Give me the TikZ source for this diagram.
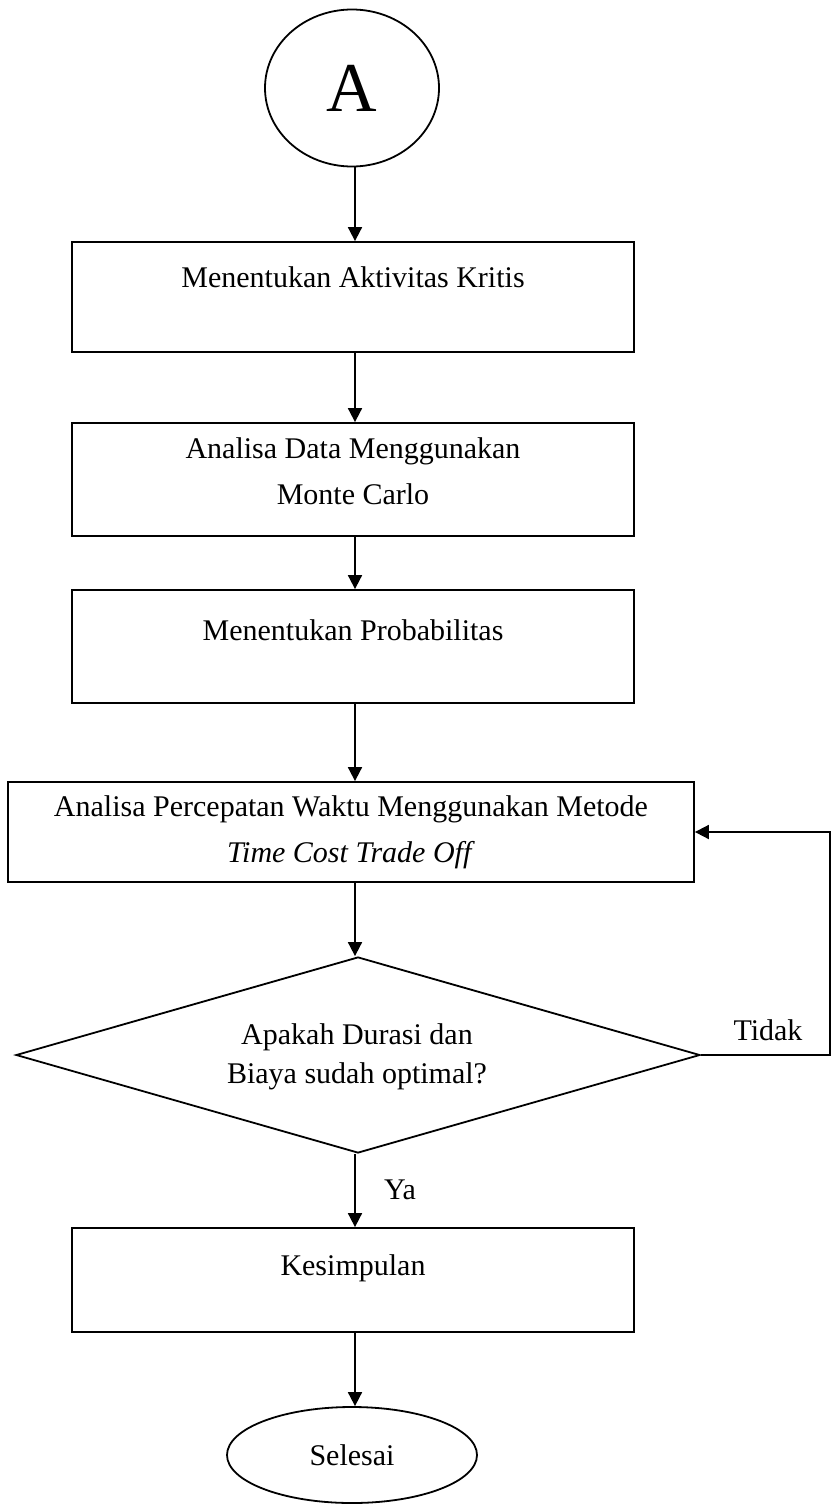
\documentclass[tikz,border=0pt]{standalone}
\usepackage{fontspec}
\setmainfont{Liberation Serif}
\usetikzlibrary{shapes.geometric,arrows.meta,calc}
\begin{document}
\begin{tikzpicture}[x=1pt,y=-1pt,
  line width=1.8pt,
  box/.style={draw, rectangle, inner sep=0pt},
  lbl/.style={font=\fontsize{30}{46}\selectfont, align=center, inner sep=0pt},
  flow/.style={-{Triangle[length=14pt,width=14pt]}}]
\useasboundingbox (0,0) rectangle (833,1510);
% start connector
\node[draw, ellipse, minimum width=174pt, minimum height=157pt, inner sep=0pt,
      font=\fontsize{70}{70}\selectfont] (start) at (352,88) {A};
% process boxes
\node[box, minimum width=562pt, minimum height=110pt] (b1) at (353,297) {};
\node[lbl] (t1) at (353,277) {Menentukan Aktivitas Kritis};
\node[box, minimum width=562pt, minimum height=113pt] (b2) at (353,479.5) {};
\node[lbl] (t2) at (353,471) {Analisa Data Menggunakan\\Monte Carlo};
\node[box, minimum width=562pt, minimum height=113pt] (b3) at (353,646.5) {};
\node[lbl] (t3) at (353,630) {Menentukan Probabilitas};
\node[box, minimum width=686pt, minimum height=100pt] (b4) at (351,832) {};
\node[lbl] (t4) at (351,832) {Analisa Percepatan Waktu Menggunakan Metode\\\textit{Time Cost Trade Off}};
% decision
\node[draw, diamond, minimum width=684pt, minimum height=196pt, inner sep=0pt] (d) at (358,1055) {};
\node[lbl, font=\fontsize{30}{39}\selectfont] (td) at (357,1057) {Apakah Durasi dan\\Biaya sudah optimal?};
\node[box, minimum width=562pt, minimum height=104pt] (b5) at (353,1280) {};
\node[lbl] (t5) at (353,1268) {Kesimpulan};
% end terminator
\node[draw, ellipse, minimum width=250pt, minimum height=96pt, inner sep=0pt,
      font=\fontsize{30}{30}\selectfont] (end) at (352,1455) {Selesai};
% connectors
\draw[flow] (start.south -| 355,0) -- (b1.north -| 355,0);
\draw[flow] (b1.south -| 355,0) -- (b2.north -| 355,0);
\draw[flow] (b2.south -| 355,0) -- (b3.north -| 355,0);
\draw[flow] (b3.south -| 355,0) -- (b4.north -| 355,0);
\draw[flow] (b4.south -| 355,0) -- (d.north -| 355,0);
\draw[flow] (d.south -| 355,0) -- (b5.north -| 355,0);
\draw[flow] (b5.south -| 355,0) -- (end.north -| 355,0);
% loop back when not optimal
\coordinate (r1) at (830,1055);
\coordinate (r2) at (830,832);
\draw[flow] (d.east) -- (r1) -- (r2) -- (b4.east);
\node[lbl] (no) at (768,1030) {Tidak};
\node[lbl] (yes) at (400,1190) {Ya};
\end{tikzpicture}
\end{document}
